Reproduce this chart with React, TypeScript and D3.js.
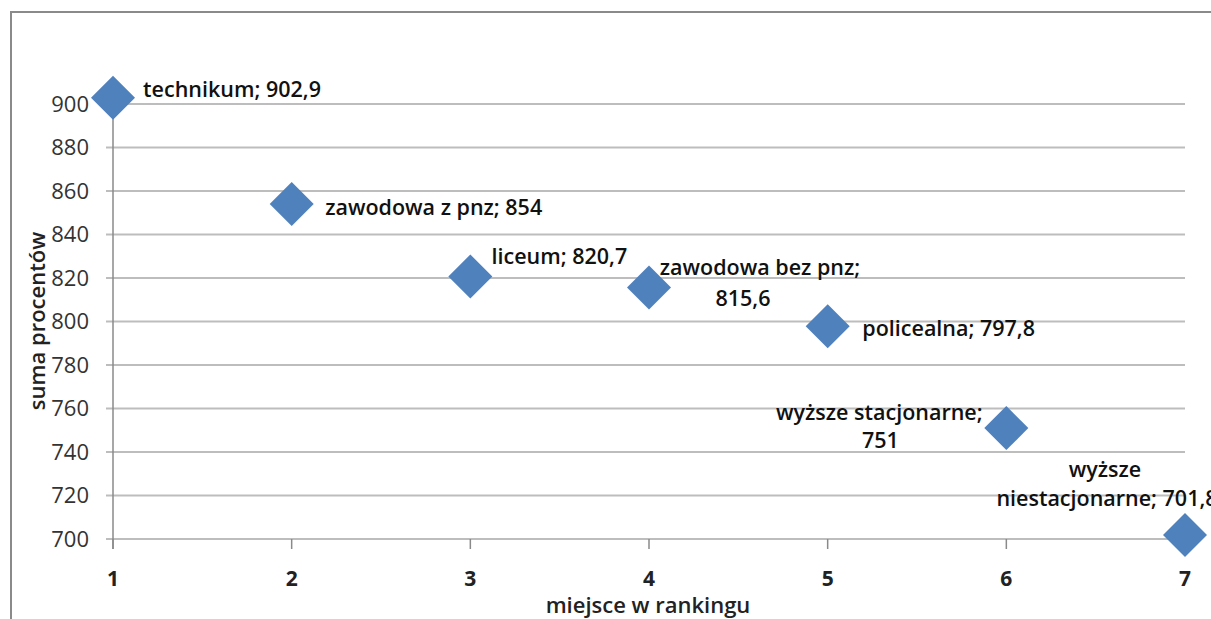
import React from "react";
import * as d3 from "d3";

const ranks = [1, 2, 3, 4, 5, 6, 7];
const values = [902.9, 854, 820.7, 815.6, 797.8, 751, 701.8];
const labelLines = [
  ["technikum; 902,9"],
  ["zawodowa z pnz; 854"],
  ["liceum; 820,7"],
  ["zawodowa bez pnz;", "815,6"],
  ["policealna; 797,8"],
  ["wyższe stacjonarne;", "751"],
  ["wyższe", "niestacjonarne; 701,8"],
];
const yTicks = [700, 720, 740, 760, 780, 800, 820, 840, 860, 880, 900];
const xTicks = [1, 2, 3, 4, 5, 6, 7];

// per-line label centre offsets from the marker: [dx, dy]
const labelOffsets: [number, number][][] = [
  [[119, -8]],
  [[142, 3]],
  [[89, -20]],
  [[111, -20], [94, 11]],
  [[121, 2]],
  [[-127, -16], [-126, 12]],
  [[-80, -66], [-78, -37]],
];

export default function App() {
  const W = 1211, H = 619;
  const x = d3.scaleLinear().domain([1, 7]).range([113, 1185]);
  const y = d3.scaleLinear().domain([700, 900]).range([539, 104]);
  const font = "'Open Sans', sans-serif";
  const r = 22;
  const diamond = `M0,${-r}L${r},0L0,${r}L${-r},0Z`;
  return (
    <div style={{ position: "absolute", left: 0, top: 0 }}>
      <svg width={W} height={H} style={{ display: "block", background: "#fff" }}>
        <rect x={11} y={12} width={W + 20} height={H + 20} fill="#fff" stroke="#8a8a8a" strokeWidth={2} />
        {yTicks.map((t) => (
          <g key={t}>
            <line x1={106} x2={1185} y1={y(t)} y2={y(t)} stroke="#bdbdbd" strokeWidth={2} />
            <text x={89} y={y(t)} dy="0.36em" textAnchor="end" fontFamily={font} fontSize={22} fill="#333">
              {t}
            </text>
          </g>
        ))}
        <line x1={x(1)} x2={x(1)} y1={y(900)} y2={y(700) + 10} stroke="#8a8a8a" strokeWidth={1.5} />
        {xTicks.map((t) => (
          <g key={t}>
            <line x1={x(t)} x2={x(t)} y1={y(700)} y2={y(700) + 10} stroke="#8a8a8a" strokeWidth={1.5} />
            <text x={x(t)} y={578} dy="0.36em" textAnchor="middle" fontFamily={font} fontWeight={700} fontSize={21} fill="#222">
              {t}
            </text>
          </g>
        ))}
        <text x={648} y={605} dy="0.36em" textAnchor="middle" fontFamily={font} fontWeight={600} fontSize={22} fill="#222">
          miejsce w rankingu
        </text>
        <text
          transform={`translate(37,321) rotate(-90)`}
          dy="0.36em"
          textAnchor="middle"
          fontFamily={font}
          fontWeight={600}
          fontSize={22}
          fill="#222"
        >
          suma procentów
        </text>
        {ranks.map((rk, i) => (
          <path key={rk} d={diamond} transform={`translate(${x(rk)},${y(values[i])})`} fill="#4f81bd" />
        ))}
        {ranks.map((rk, i) => (
          <text key={rk} fontFamily={font} fontWeight={600} fontSize={21.5} fill="#111" textAnchor="middle">
            {labelLines[i].map((l, j) => (
              <tspan key={j} x={x(rk) + labelOffsets[i][j][0]} y={y(values[i]) + labelOffsets[i][j][1]} dy="0.36em">
                {l}
              </tspan>
            ))}
          </text>
        ))}
      </svg>
    </div>
  );
}
